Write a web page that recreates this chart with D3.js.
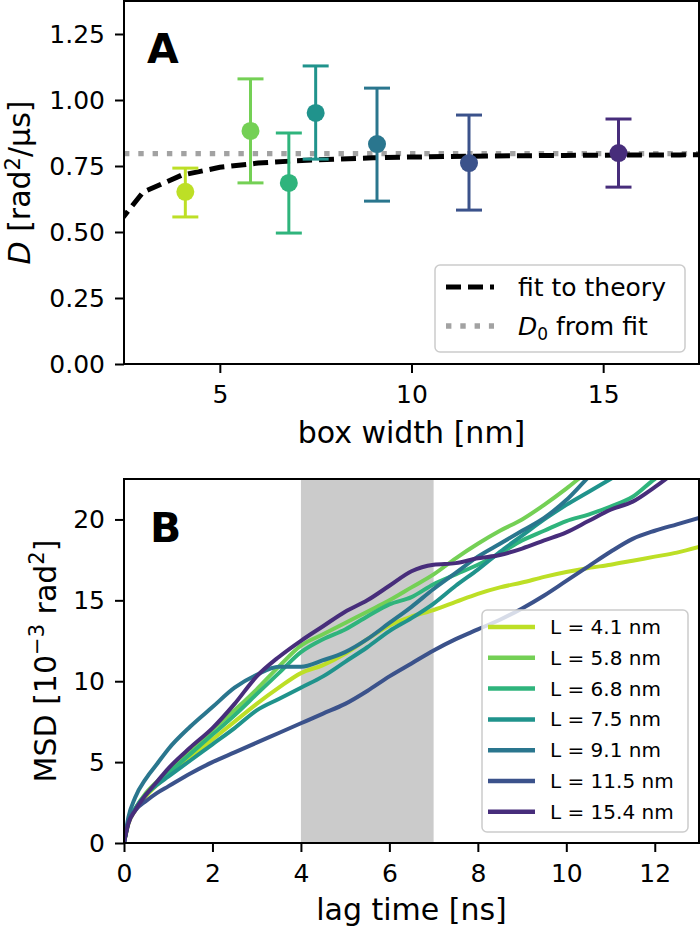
<!DOCTYPE html>
<html><head><meta charset="utf-8">
<script src="https://cdn.jsdelivr.net/npm/d3@7"></script>
<style>
body{margin:0;background:#fff}
svg text{font-family:"DejaVu Sans",sans-serif;fill:#000}
</style>
</head><body>
<svg id="chart" width="700" height="928"></svg>
<script>
// ---------- Panel A data ----------
const boxWidths = [4.1, 5.8, 6.8, 7.5, 9.1, 11.5, 15.4];
const diffCoef  = [0.652, 0.883, 0.686, 0.951, 0.833, 0.761, 0.799];
const errLow    = [0.557, 0.686, 0.496, 0.776, 0.617, 0.583, 0.670];
const errHigh   = [0.742, 1.080, 0.875, 1.129, 1.045, 0.943, 0.928];
const seriesColors = ["#bddf26", "#74d055", "#2fb47c", "#20938c", "#2a768e", "#3b528b", "#472d7b"];
const fitL = [2, 3, 4, 5, 6, 7, 8, 9, 10, 11, 12, 13, 14, 15, 16, 17, 18];
const fitD = [0.469, 0.651, 0.715, 0.745, 0.761, 0.770, 0.776, 0.781, 0.784, 0.786, 0.788, 0.789, 0.790, 0.791, 0.792, 0.792, 0.793];
const D0 = 0.797;
const xTicksA = [5, 10, 15];
const yTicksA = [0, 0.25, 0.5, 0.75, 1.0, 1.25];

// ---------- Panel B data ----------
const lagTimes = [0, 0.1, 0.25, 0.5, 0.75, 1, 1.5, 2, 2.5, 3, 3.5, 4, 4.5, 5, 5.5, 6, 6.5, 7, 7.5, 8, 8.5, 9, 9.5, 10, 10.5, 11, 11.5, 12, 12.5, 13];
const msdL41  = [0, 1.2, 2.0, 2.9, 3.6, 4.2, 5.3, 6.4, 7.5, 8.6, 9.6, 10.5, 11.0, 11.7, 12.6, 13.45, 14.0, 14.4, 14.9, 15.4, 15.8, 16.1, 16.45, 16.75, 17.0, 17.2, 17.45, 17.7, 17.95, 18.3];
const msdL58  = [0, 1.3, 2.1, 3.1, 3.8, 4.4, 5.7, 7.0, 8.2, 9.5, 10.9, 12.2, 12.9, 13.6, 14.3, 15.0, 15.8, 16.6, 17.6, 18.5, 19.3, 20.0, 20.9, 21.9, 23.0, 24.0, 25.0, 26.0, 27.0, 28.0];
const msdL68  = [0, 1.3, 2.1, 3.0, 3.7, 4.3, 5.5, 6.7, 7.9, 9.2, 10.5, 11.8, 12.6, 13.2, 14.0, 14.75, 15.2, 16.0, 16.6, 17.2, 17.9, 18.7, 19.3, 19.9, 20.3, 20.8, 21.4, 22.5, 23.3, 24.0];
const msdL75  = [0, 1.3, 2.1, 3.0, 3.6, 4.1, 5.1, 6.1, 7.1, 8.2, 8.9, 9.6, 10.3, 11.2, 12.1, 13.1, 13.9, 14.8, 15.9, 16.9, 18.0, 19.0, 20.0, 20.9, 21.7, 22.5, 23.3, 24.1, 24.9, 25.7];
const msdL91  = [0, 1.6, 2.8, 4.0, 4.9, 5.8, 7.2, 8.4, 9.6, 10.4, 10.9, 10.9, 11.3, 11.8, 12.6, 13.6, 14.6, 15.7, 16.7, 17.7, 18.5, 19.3, 20.1, 21.2, 22.6, 23.8, 24.8, 25.8, 26.8, 27.8];
const msdL115 = [0, 1.3, 2.0, 2.6, 3.1, 3.5, 4.3, 5.0, 5.6, 6.2, 6.8, 7.4, 8.0, 8.6, 9.4, 10.3, 11.1, 11.9, 12.6, 13.2, 13.8, 14.5, 15.3, 16.2, 17.1, 18.0, 18.8, 19.3, 19.7, 20.1];
const msdL154 = [0, 1.2, 2.0, 3.0, 3.8, 4.6, 5.9, 7.1, 8.6, 10.3, 11.5, 12.5, 13.4, 14.3, 15.0, 15.9, 16.8, 17.2, 17.3, 17.6, 17.8, 18.2, 18.7, 19.2, 19.9, 20.6, 21.1, 22.0, 23.0, 24.0];
const msdSeries = [msdL41, msdL58, msdL68, msdL75, msdL91, msdL115, msdL154];
const legendLabels = ["L = 4.1 nm", "L = 5.8 nm", "L = 6.8 nm", "L = 7.5 nm", "L = 9.1 nm", "L = 11.5 nm", "L = 15.4 nm"];
const fitWindow = [4, 7];
const xTicksB = [0, 2, 4, 6, 8, 10, 12];
const yTicksB = [0, 5, 10, 15, 20];

const svg = d3.select("#chart");
const TICK_FS = 25, LABEL_FS = 30;

function styleAxis(g) {
  g.selectAll("path.domain").remove();
  g.selectAll(".tick line").attr("stroke", "#000").attr("stroke-width", 2);
  g.selectAll(".tick text").attr("font-size", TICK_FS).attr("fill", "#000")
    .style("font-family", "'DejaVu Sans', sans-serif");
}

// ================= Panel A =================
const pA = {l: 124, r: 699, t: 1, b: 364};
const xA = d3.scaleLinear().domain([2.5, 17.5]).range([pA.l, pA.r]);
const yA = d3.scaleLinear().domain([0, 1.375]).range([pA.b, pA.t]);

const defs = svg.append("defs");
defs.append("clipPath").attr("id", "clipA")
  .append("rect").attr("x", pA.l).attr("y", pA.t).attr("width", pA.r - pA.l).attr("height", pA.b - pA.t);
defs.append("clipPath").attr("id", "clipB")
  .append("rect").attr("x", 124).attr("y", 479).attr("width", 575).attr("height", 364);

const gA = svg.append("g");
const gAc = gA.append("g").attr("clip-path", "url(#clipA)");

// D0 dotted line
gAc.append("line")
  .attr("x1", xA(2.5)).attr("x2", xA(17.5)).attr("y1", yA(D0)).attr("y2", yA(D0))
  .attr("stroke", "#a2a2a2").attr("stroke-width", 5.4).attr("stroke-dasharray", "5.4,8.9");

// fit curve
const fitLine = d3.line().x((d, i) => xA(fitL[i])).y((d, i) => yA(fitD[i]));
gAc.append("path").datum(fitL).attr("d", fitLine)
  .attr("fill", "none").attr("stroke", "#000").attr("stroke-width", 5)
  .attr("stroke-dasharray", "15,7");

// error bars + points
boxWidths.forEach((L, i) => {
  const c = seriesColors[i];
  const g = gAc.append("g");
  g.append("line").attr("x1", xA(L)).attr("x2", xA(L)).attr("y1", yA(errLow[i])).attr("y2", yA(errHigh[i]))
    .attr("stroke", c).attr("stroke-width", 3);
  [errLow[i], errHigh[i]].forEach(v => {
    g.append("line").attr("x1", xA(L) - 13).attr("x2", xA(L) + 13).attr("y1", yA(v)).attr("y2", yA(v))
      .attr("stroke", c).attr("stroke-width", 3);
  });
  g.append("circle").attr("cx", xA(L)).attr("cy", yA(diffCoef[i])).attr("r", 9).attr("fill", c);
});

// axes A
const axXA = gA.append("g").attr("transform", `translate(0,${pA.b})`)
  .call(d3.axisBottom(xA).tickValues(xTicksA).tickSize(9).tickPadding(12).tickFormat(d3.format("d")));
styleAxis(axXA);
const axYA = gA.append("g").attr("transform", `translate(${pA.l},0)`)
  .call(d3.axisLeft(yA).tickValues(yTicksA).tickSize(9).tickPadding(10).tickFormat(d3.format(".2f")));
styleAxis(axYA);
gA.append("rect").attr("x", pA.l).attr("y", pA.t).attr("width", pA.r - pA.l).attr("height", pA.b - pA.t)
  .attr("fill", "none").attr("stroke", "#000").attr("stroke-width", 2);

// panel label
gA.append("text").attr("x", 147).attr("y", 63).attr("font-size", 41).attr("font-weight", "bold").text("A");

// axis labels A
gA.append("text").attr("x", (pA.l + pA.r) / 2).attr("y", 443).attr("text-anchor", "middle")
  .attr("font-size", LABEL_FS).text("box width [nm]");
const ylA = gA.append("text").attr("transform", `translate(30,${(pA.t + pA.b) / 2}) rotate(-90)`)
  .attr("text-anchor", "middle").attr("font-size", LABEL_FS);
ylA.append("tspan").attr("font-style", "italic").text("D");
ylA.append("tspan").text(" [rad");
ylA.append("tspan").attr("font-size", LABEL_FS * 0.7).attr("dy", -10).text("2");
ylA.append("tspan").attr("dy", 10).text("/μs]");

// legend A
const lgA = gA.append("g");
lgA.append("rect").attr("x", 435).attr("y", 265).attr("width", 250).attr("height", 87).attr("rx", 5)
  .attr("fill", "rgba(255,255,255,0.8)").attr("stroke", "#cccccc").attr("stroke-width", 1.5);
lgA.append("line").attr("x1", 446).attr("x2", 494).attr("y1", 287).attr("y2", 287)
  .attr("stroke", "#000").attr("stroke-width", 5).attr("stroke-dasharray", "15,7");
lgA.append("text").attr("x", 518).attr("y", 296).attr("font-size", 25).text("fit to theory");
lgA.append("line").attr("x1", 446).attr("x2", 494).attr("y1", 326).attr("y2", 326)
  .attr("stroke", "#a2a2a2").attr("stroke-width", 5.4).attr("stroke-dasharray", "5.4,8.9");
const lgT = lgA.append("text").attr("x", 518).attr("y", 335).attr("font-size", 25);
lgT.append("tspan").attr("font-style", "italic").text("D");
lgT.append("tspan").attr("font-size", 17).attr("dy", 5).text("0");
lgT.append("tspan").attr("dy", -5).text(" from fit");

// ================= Panel B =================
const pB = {l: 124, r: 699, t: 479, b: 843};
const xB = d3.scaleLinear().domain([0, 13]).range([pB.l, pB.r]);
const yB = d3.scaleLinear().domain([0, 22.5]).range([pB.b, pB.t]);
const gB = svg.append("g");
const gBc = gB.append("g").attr("clip-path", "url(#clipB)");

gBc.append("rect").attr("x", xB(fitWindow[0])).attr("y", pB.t)
  .attr("width", xB(fitWindow[1]) - xB(fitWindow[0])).attr("height", pB.b - pB.t)
  .attr("fill", "#cbcbcb");

const msdLine = d3.line().curve(d3.curveMonotoneX).x((d, i) => xB(lagTimes[i])).y(d => yB(d));
msdSeries.forEach((s, i) => {
  gBc.append("path").datum(s).attr("d", msdLine).attr("fill", "none")
    .attr("stroke", seriesColors[i]).attr("stroke-width", 4).attr("stroke-linejoin", "round");
});

const axXB = gB.append("g").attr("transform", `translate(0,${pB.b})`)
  .call(d3.axisBottom(xB).tickValues(xTicksB).tickSize(9).tickPadding(12).tickFormat(d3.format("d")));
styleAxis(axXB);
const axYB = gB.append("g").attr("transform", `translate(${pB.l},0)`)
  .call(d3.axisLeft(yB).tickValues(yTicksB).tickSize(9).tickPadding(10).tickFormat(d3.format("d")));
styleAxis(axYB);
gB.append("rect").attr("x", pB.l).attr("y", pB.t).attr("width", pB.r - pB.l).attr("height", pB.b - pB.t)
  .attr("fill", "none").attr("stroke", "#000").attr("stroke-width", 2);

gB.append("text").attr("x", 150).attr("y", 542).attr("font-size", 41).attr("font-weight", "bold").text("B");

gB.append("text").attr("x", (pB.l + pB.r) / 2).attr("y", 920).attr("text-anchor", "middle")
  .attr("font-size", LABEL_FS).text("lag time [ns]");
const ylB = gB.append("text").attr("transform", `translate(56,${(pB.t + pB.b) / 2}) rotate(-90)`)
  .attr("text-anchor", "middle").attr("font-size", LABEL_FS);
ylB.append("tspan").text("MSD [10");
ylB.append("tspan").attr("font-size", LABEL_FS * 0.7).attr("dy", -12).text("−3");
ylB.append("tspan").attr("dy", 12).text(" rad");
ylB.append("tspan").attr("font-size", LABEL_FS * 0.7).attr("dy", -12).text("2");
ylB.append("tspan").attr("dy", 12).text("]");

// legend B
const lgB = gB.append("g");
lgB.append("rect").attr("x", 482).attr("y", 610).attr("width", 206).attr("height", 222).attr("rx", 5)
  .attr("fill", "rgba(255,255,255,0.8)").attr("stroke", "#cccccc").attr("stroke-width", 1.5);
legendLabels.forEach((lab, i) => {
  const y = 627 + i * 30.8;
  lgB.append("line").attr("x1", 488).attr("x2", 535).attr("y1", y).attr("y2", y)
    .attr("stroke", seriesColors[i]).attr("stroke-width", 4.5);
  lgB.append("text").attr("x", 550).attr("y", y + 7).attr("font-size", 20).text(lab);
});
</script>
</body></html>
